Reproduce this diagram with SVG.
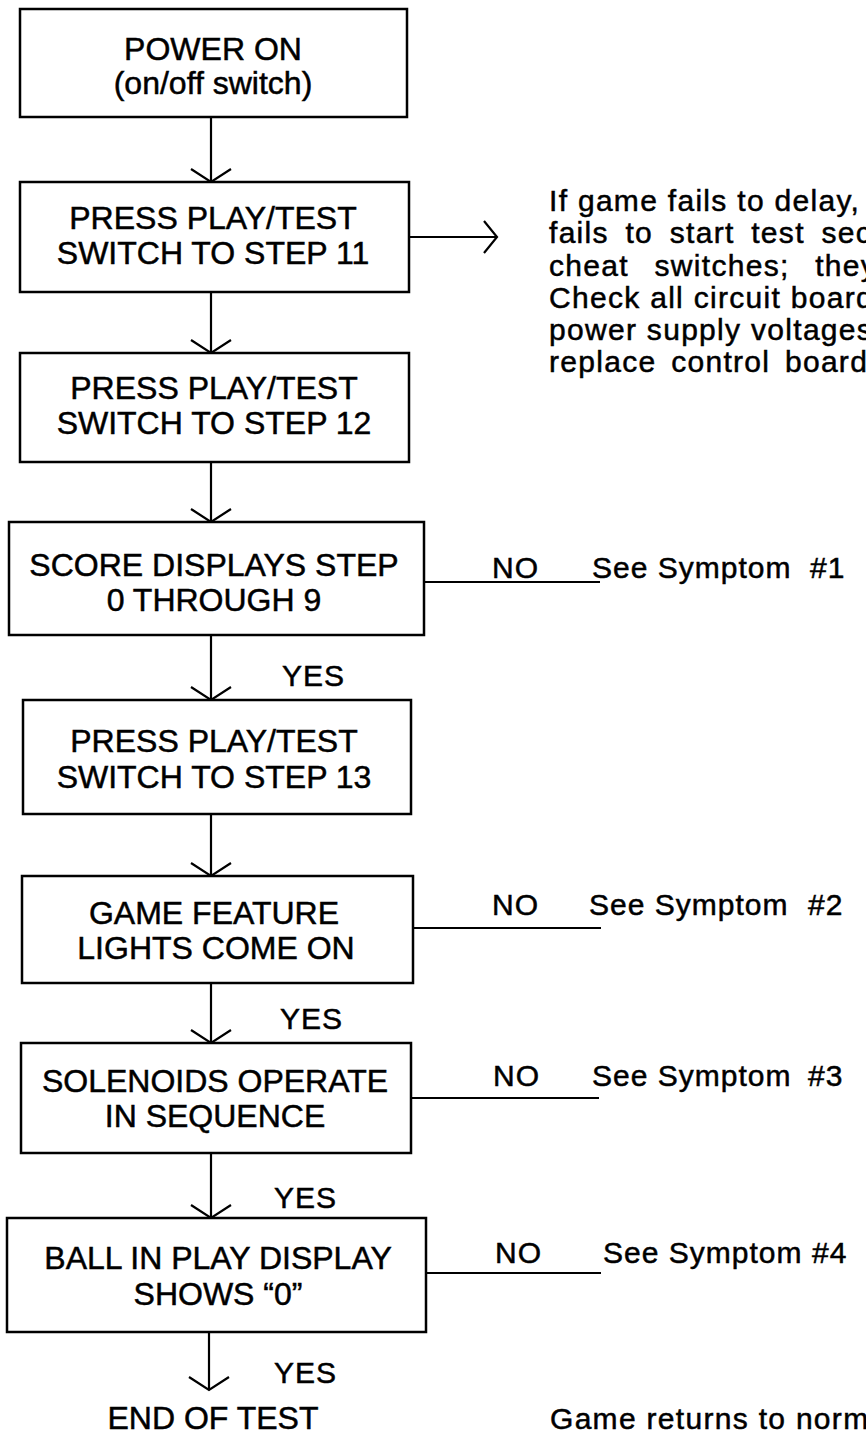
<svg xmlns="http://www.w3.org/2000/svg" width="866" height="1439" viewBox="0 0 866 1439">
<style>
.box{fill:#fff;stroke:#000;stroke-width:2.5}
.ln{fill:none;stroke:#000;stroke-width:2.2}
.bt{font-family:"Liberation Sans",Arial,Helvetica,sans-serif;font-size:32px;text-anchor:middle;fill:#000;stroke:#000;stroke-width:0.5}
.lb{font-family:"Liberation Sans",Arial,Helvetica,sans-serif;font-size:30px;fill:#000;letter-spacing:1px;stroke:#000;stroke-width:0.5}
.para{font-family:"Liberation Sans",Arial,Helvetica,sans-serif;font-size:30px;fill:#000;letter-spacing:1.3px;stroke:#000;stroke-width:0.5}
</style>
<defs>
<marker id="ah" markerUnits="userSpaceOnUse" orient="auto" refX="0" refY="0" markerWidth="30" markerHeight="50" overflow="visible">
<path d="M-13,-20 L0,0 L-13,20" fill="none" stroke="#000" stroke-width="2.2"/>
</marker>
<marker id="ahr" markerUnits="userSpaceOnUse" orient="auto" refX="0" refY="0" markerWidth="30" markerHeight="40" overflow="visible">
<path d="M-13,-16 L0,0 L-13,16" fill="none" stroke="#000" stroke-width="2.2"/>
</marker>
</defs>
<rect x="0" y="0" width="866" height="1439" fill="#fff"/>
<g id="connectors">
<line class="ln" x1="211" y1="117" x2="211" y2="182" marker-end="url(#ah)"/>
<line class="ln" x1="211" y1="292" x2="211" y2="353" marker-end="url(#ah)"/>
<line class="ln" x1="211" y1="462" x2="211" y2="522" marker-end="url(#ah)"/>
<line class="ln" x1="211" y1="635" x2="211" y2="700" marker-end="url(#ah)"/>
<line class="ln" x1="211" y1="814" x2="211" y2="876" marker-end="url(#ah)"/>
<line class="ln" x1="211" y1="983" x2="211" y2="1043" marker-end="url(#ah)"/>
<line class="ln" x1="211" y1="1153" x2="211" y2="1218" marker-end="url(#ah)"/>
<line class="ln" x1="209" y1="1332" x2="209" y2="1390" marker-end="url(#ah)"/>
<line class="ln" x1="409" y1="237" x2="497" y2="237" marker-end="url(#ahr)"/>
<line class="ln" x1="424" y1="582" x2="600" y2="582"/>
<line class="ln" x1="413" y1="928" x2="601" y2="928"/>
<line class="ln" x1="411" y1="1098" x2="599" y2="1098"/>
<line class="ln" x1="426" y1="1273" x2="601" y2="1273"/>
<text class="lb" x="282" y="686">YES</text>
<text class="lb" x="280" y="1029">YES</text>
<text class="lb" x="274" y="1208">YES</text>
<text class="lb" x="274" y="1383">YES</text>
<text class="lb" x="492" y="578">NO</text>
<text class="lb" x="492" y="915">NO</text>
<text class="lb" x="493" y="1086">NO</text>
<text class="lb" x="495" y="1263">NO</text>
</g>
<g id="power-on">
<rect class="box" x="20" y="9" width="387" height="108"/>
<text class="bt" x="213" y="60">POWER ON</text>
<text class="bt" x="213" y="94">(on/off switch)</text>
</g>
<g id="step11">
<rect class="box" x="20" y="182" width="389" height="110"/>
<text class="bt" x="213" y="229">PRESS PLAY/TEST</text>
<text class="bt" x="213" y="264">SWITCH TO STEP 11</text>
</g>
<g id="step12">
<rect class="box" x="20" y="353" width="389" height="109"/>
<text class="bt" x="214" y="399">PRESS PLAY/TEST</text>
<text class="bt" x="214" y="434">SWITCH TO STEP 12</text>
</g>
<g id="score">
<rect class="box" x="9" y="522" width="415" height="113"/>
<text class="bt" x="214" y="576">SCORE DISPLAYS STEP</text>
<text class="bt" x="214" y="611">0 THROUGH 9</text>
</g>
<g id="step13">
<rect class="box" x="23" y="700" width="388" height="114"/>
<text class="bt" x="214" y="752">PRESS PLAY/TEST</text>
<text class="bt" x="214" y="788">SWITCH TO STEP 13</text>
</g>
<g id="lights">
<rect class="box" x="22" y="876" width="391" height="107"/>
<text class="bt" x="214" y="924">GAME FEATURE</text>
<text class="bt" x="216" y="959">LIGHTS COME ON</text>
</g>
<g id="solenoids">
<rect class="box" x="21" y="1043" width="390" height="110"/>
<text class="bt" x="215" y="1092">SOLENOIDS OPERATE</text>
<text class="bt" x="215" y="1127">IN SEQUENCE</text>
</g>
<g id="ball">
<rect class="box" x="7" y="1218" width="419" height="114"/>
<text class="bt" x="218" y="1269">BALL IN PLAY DISPLAY</text>
<text class="bt" x="218" y="1305">SHOWS “0”</text>
</g>
<g id="end">
<text class="bt" x="213" y="1429">END OF TEST</text>
</g>
<g id="note-fail">
<text class="para">
<tspan x="549" y="211">If game fails to delay,</tspan>
<tspan x="549" y="243" word-spacing="7">fails to start test sec</tspan>
<tspan x="549" y="276" word-spacing="16">cheat switches; they</tspan>
<tspan x="549" y="308">Check all circuit board</tspan>
<tspan x="549" y="340">power supply voltages</tspan>
<tspan x="549" y="372" word-spacing="5">replace control board</tspan>
</text>
</g>
<g id="symptoms">
<text class="lb" x="592" y="578">See Symptom</text><text class="lb" x="810" y="578">#1</text>
<text class="lb" x="589" y="915">See Symptom</text><text class="lb" x="808" y="915">#2</text>
<text class="lb" x="592" y="1086">See Symptom</text><text class="lb" x="808" y="1086">#3</text>
<text class="lb" x="603" y="1263">See Symptom</text><text class="lb" x="812" y="1263">#4</text>
</g>
<g id="note-end">
<text class="para" x="550" y="1429">Game returns to norm</text>
</g>
</svg>
